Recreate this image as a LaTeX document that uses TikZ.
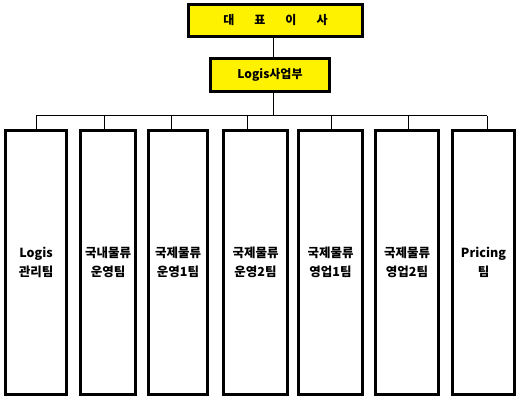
\documentclass[tikz,border=0pt]{standalone}
\usepackage{fontspec}
\newfontfamily\cjk{Noto Sans CJK KR}
\usetikzlibrary{positioning}

\begin{document}
\begin{tikzpicture}[x=1pt,y=-1pt,
                    head node/.style={rectangle,draw,line width=3pt,fill=yellow,inner sep=0pt,
                                      font=\cjk\bfseries\fontsize{12}{19}\selectfont},
                    team node/.style={rectangle,draw,line width=3pt,inner sep=0pt,minimum height=264pt,
                                      align=center,font=\cjk\bfseries\fontsize{12.5}{19}\selectfont},
                    link/.style={line width=1pt}]
  \useasboundingbox (0,0) rectangle (527,403);

  \node[head node,minimum width=174pt,minimum height=32pt] (ceo) at (275.5,20.5)
    {대\hspace{20pt}표\hspace{20pt}이\hspace{20pt}사};
  \node[head node,minimum width=119pt,minimum height=33pt] (div) at (270,75) {Logis사업부};

  \node[team node,minimum width=61pt] (t1) at (36,262.5) {Logis\\관리팀};
  \node[team node,minimum width=55pt] (t2) at (108,262.5) {국내물류\\운영팀};
  \node[team node,minimum width=59pt] (t3) at (178,262.5) {국제물류\\운영1팀};
  \node[team node,minimum width=64pt] (t4) at (255.5,262.5) {국제물류\\운영2팀};
  \node[team node,minimum width=64pt] (t5) at (330.5,262.5) {국제물류\\영업1팀};
  \node[team node,minimum width=63pt] (t6) at (407,262.5) {국제물류\\영업2팀};
  \node[team node,minimum width=62pt] (t7) at (483.5,262.5) {Pricing\\팀};

  % bus
  \coordinate (b1) at (36,116);
  \coordinate (b2) at (104,116);
  \coordinate (b3) at (171,116);
  \coordinate (b4) at (247,116);
  \coordinate (b5) at (331,116);
  \coordinate (b6) at (408,116);
  \coordinate (b7) at (487,116);
  \coordinate (top) at (273.5,116);

  \draw[link] (ceo.south -| top) -- (div.north -| top);
  \draw[link] (div.south -| top) -- (top);
  \draw[link] (b1) -- (b7);
  \foreach \i in {1,...,7}
    \draw[link] (b\i) -- (b\i |- t\i.north);
\end{tikzpicture}
\end{document}
